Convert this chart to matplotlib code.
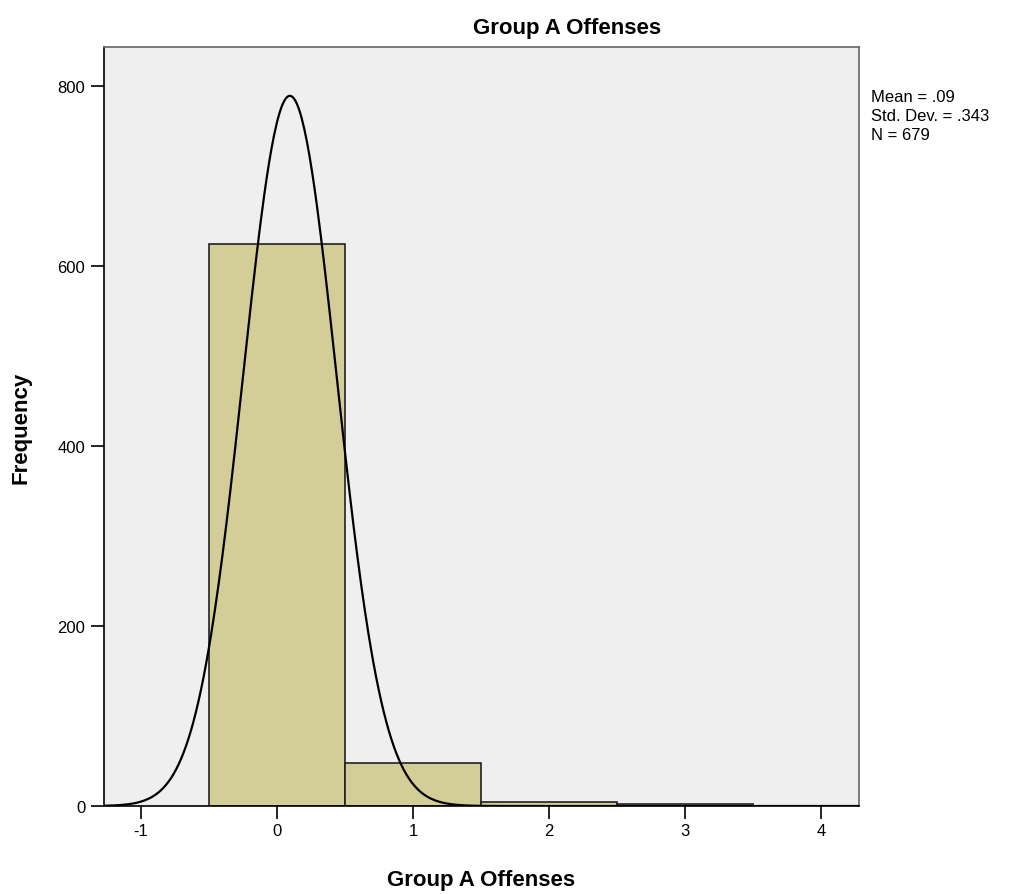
import numpy as np
import matplotlib.pyplot as plt

plt.rcParams['font.family'] = ['Liberation Sans', 'DejaVu Sans']

# histogram of offense counts, one bin per integer value
values = [0, 1, 2, 3, 4]
counts = [624, 48, 5, 2, 0]
x_ticks = [-1, 0, 1, 2, 3, 4]
y_ticks = [0, 200, 400, 600, 800]

vals = np.repeat(values, counts)
n = len(vals)
mean = vals.mean()
sd = vals.std(ddof=1)

fig = plt.figure(figsize=(10.21, 8.95), dpi=100)
ax = fig.add_axes([0.1019, 0.0983, 0.7394, 0.8481])
ax.set_facecolor('#efefef')

ax.bar(values, counts, width=1.0, color='#d3ce97', edgecolor='#222222', linewidth=1.2, zorder=2)

# fitted normal curve scaled to the counts
xs = np.linspace(-1.272, 4.279, 600)
ys = n * 1.0 / (sd * np.sqrt(2 * np.pi)) * np.exp(-0.5 * ((xs - mean) / sd) ** 2)
ax.plot(xs, ys, color='black', linewidth=1.6, zorder=3)

ax.set_xlim(-1.272, 4.279)
ax.set_ylim(0, 843)
ax.set_xticks(x_ticks)
ax.set_xticklabels([str(t) for t in x_ticks])
ax.set_yticks(y_ticks)
ax.tick_params(direction='out', length=9.5, width=1.2, labelsize=12)
ax.tick_params(axis='x', pad=3)
ax.tick_params(axis='y', pad=4)

for s in ['left', 'bottom']:
    ax.spines[s].set_color('black')
    ax.spines[s].set_linewidth(1.2)
for s in ['top', 'right']:
    ax.spines[s].set_color('#666666')
    ax.spines[s].set_linewidth(1.2)

fig.text(0.555, 0.968, 'Group A Offenses', fontsize=16, fontweight='bold',
         ha='center', va='center')
ax.set_xlabel('Group A Offenses', fontsize=16, fontweight='bold', labelpad=22)
ax.set_ylabel('Frequency', fontsize=16, fontweight='bold', labelpad=19)

stats = 'Mean = %s\nStd. Dev. = %s\nN = %d' % (('%.2f' % mean).lstrip('0'),
                                                ('%.3f' % sd).lstrip('0'), n)
fig.text(0.853, 0.899, stats, fontsize=12, va='top', ha='left', linespacing=1.3)

fig.savefig('out.png', dpi=100)
